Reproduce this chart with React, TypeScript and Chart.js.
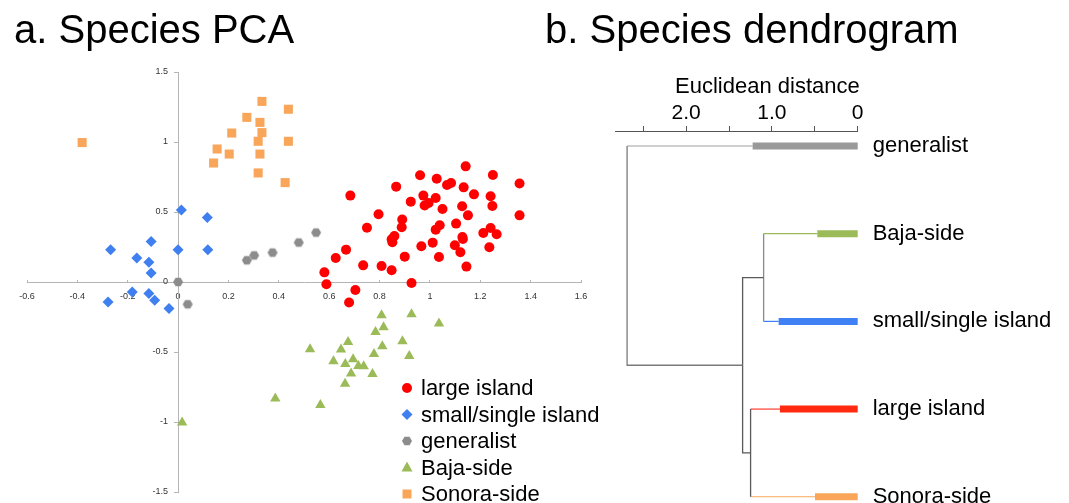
import React, { useEffect, useRef } from 'react';
import { Chart, registerables } from 'chart.js';

Chart.register(...registerables);

const FONT = '"Liberation Sans", Arial, Helvetica, sans-serif';

// ---------- PCA data ----------
const seriesNames = ['large island', 'small/single island', 'generalist', 'Baja-side', 'Sonora-side'];
const seriesColors = ['#FF0000', '#3F7FF0', '#8C8C8C', '#9BBB59', '#F9A65A'];

const largeIsland: [number, number][] = [
  [1.142, 0.826], [0.961, 0.762], [1.027, 0.738], [1.25, 0.764], [1.356, 0.703], [1.068, 0.693],
  [1.084, 0.707], [1.134, 0.676], [0.866, 0.681], [1.175, 0.626], [0.684, 0.617], [0.974, 0.617],
  [1.023, 0.6], [1.241, 0.612], [0.924, 0.574], [0.995, 0.564], [0.979, 0.546], [1.128, 0.541],
  [1.248, 0.543], [1.05, 0.521], [0.796, 0.484], [1.151, 0.476], [1.356, 0.476], [0.89, 0.446],
  [0.888, 0.391], [1.104, 0.417], [0.75, 0.388], [1.039, 0.405], [1.023, 0.374], [1.241, 0.386],
  [1.212, 0.35], [1.265, 0.341], [1.129, 0.321], [1.131, 0.307], [0.859, 0.329], [0.848, 0.305],
  [0.851, 0.284], [1.011, 0.281], [1.099, 0.262], [0.966, 0.255], [0.667, 0.231], [1.236, 0.248],
  [1.121, 0.212], [0.626, 0.171], [0.9, 0.181], [1.036, 0.179], [0.735, 0.119], [0.808, 0.114],
  [0.848, 0.084], [1.145, 0.11], [0.581, 0.069], [0.589, -0.016], [0.927, -0.007], [0.704, -0.057],
  [0.679, -0.147],
];
const smallIsland: [number, number][] = [
  [0.013, 0.514], [0.116, 0.46], [-0.107, 0.289], [-0.268, 0.231], [0, 0.231], [0.118, 0.231],
  [-0.164, 0.171], [-0.116, 0.141], [-0.107, 0.064], [-0.182, -0.071], [-0.278, -0.143],
  [-0.116, -0.083], [-0.093, -0.131], [-0.036, -0.19],
];
const generalist: [number, number][] = [
  [0, 0], [0.038, -0.159], [0.273, 0.155], [0.302, 0.19], [0.375, 0.21], [0.479, 0.282], [0.548, 0.353],
];
const bajaSide: [number, number][] = [
  [0.016, -1.004], [0.386, -0.833], [0.524, -0.481], [0.565, -0.879], [0.808, -0.238], [0.927, -0.231],
  [1.036, -0.297], [0.784, -0.357], [0.816, -0.324], [0.675, -0.429], [0.647, -0.483], [0.811, -0.459],
  [0.891, -0.424], [0.778, -0.514], [0.918, -0.529], [0.617, -0.566], [0.695, -0.552], [0.664, -0.586],
  [0.716, -0.6], [0.737, -0.602], [0.687, -0.654], [0.772, -0.657], [0.663, -0.726],
];
const sonoraSide: [number, number][] = [
  [-0.381, 0.996], [0.333, 1.29], [0.438, 1.234], [0.273, 1.176], [0.325, 1.14], [0.333, 1.067],
  [0.213, 1.064], [0.318, 1.005], [0.438, 1.005], [0.155, 0.95], [0.203, 0.914], [0.325, 0.914],
  [0.141, 0.85], [0.318, 0.779], [0.425, 0.71],
];
const pcaSeries = [largeIsland, smallIsland, generalist, bajaSide, sonoraSide];

const xTickRange = [-0.6, 1.6];
const xTickStep = 0.2;
const yTickRange = [-1.5, 1.5];
const yTickStep = 0.5;

// ---------- Dendrogram data ----------
const leafNames = ['generalist', 'Baja-side', 'small/single island', 'large island', 'Sonora-side'];
const leafBarLength = [1.225, 0.471, 0.922, 0.907, 0.498];
const leafJoinHeight = [2.689, 1.097, 1.097, 1.249, 1.249];
const leafBarColors = ['#999999', '#9BBB59', '#4080F5', '#FF2A10', '#F9A65A'];
const leafThinColors = ['#A0A0A0', '#9BBB59', '#4080F5', '#FF3B2F', '#F9A65A'];
const nodeBajaSmall = 1.097;
const nodeLargeSonora = 1.249;
const nodeInner = 1.342;
const nodeRoot = 2.689;
const distanceTicks = [0, 1, 2];
const distanceMax = 2.83;

const fmt = (v: any) => String(parseFloat(Number(v).toFixed(2)));

function makeHexagon(color: string, r: number) {
  const c = document.createElement('canvas');
  c.width = Math.ceil(2 * r + 2);
  c.height = Math.ceil(2 * r + 2);
  const ctx = c.getContext('2d')!;
  ctx.fillStyle = color;
  ctx.beginPath();
  for (let i = 0; i < 6; i++) {
    const a = (Math.PI / 3) * i;
    ctx.lineTo(c.width / 2 + r * Math.cos(a), c.height / 2 + r * Math.sin(a));
  }
  ctx.closePath();
  ctx.fill();
  return c;
}

function drawLegendMarker(ctx: CanvasRenderingContext2D, style: string, x: number, y: number, color: string) {
  ctx.save();
  ctx.fillStyle = color;
  ctx.beginPath();
  if (style === 'circle') {
    ctx.arc(x, y, 5, 0, Math.PI * 2);
  } else if (style === 'rectRot') {
    ctx.moveTo(x, y - 5.5); ctx.lineTo(x + 5.5, y); ctx.lineTo(x, y + 5.5); ctx.lineTo(x - 5.5, y);
  } else if (style === 'hex') {
    for (let i = 0; i < 6; i++) {
      const a = (Math.PI / 3) * i;
      ctx.lineTo(x + 5 * Math.cos(a), y + 5 * Math.sin(a));
    }
  } else if (style === 'triangle') {
    ctx.moveTo(x, y - 6); ctx.lineTo(x + 5.5, y + 4); ctx.lineTo(x - 5.5, y + 4);
  } else {
    ctx.rect(x - 4.5, y - 4.5, 9, 9);
  }
  ctx.closePath();
  ctx.fill();
  ctx.restore();
}

// shift y-axis tick labels (axis positioned at x = 0) to the left of the axis
function shiftYLabels(scale: any, dx: number) {
  if (scale.__shifted) return;
  scale.__shifted = true;
  const orig = scale._computeLabelItems.bind(scale);
  scale._computeLabelItems = (ca: any) =>
    orig(ca).map((item: any) => ({
      ...item,
      options: {
        ...item.options,
        translation: [item.options.translation[0] - dx, item.options.translation[1]],
      },
    }));
}

const PcaChart: React.FC = () => {
  const ref = useRef<HTMLCanvasElement>(null);
  useEffect(() => {
    const hex = makeHexagon(seriesColors[2], 5);
    const styles: any[] = ['circle', 'rectRot', hex, 'triangle', 'rect'];
    const radii = [5, 5.5, 5, 6, 6.4];
    const legendStyles = ['circle', 'rectRot', 'hex', 'triangle', 'rect'];
    const overlay = {
      id: 'pcaOverlay',
      afterDraw(chart: any) {
        const ctx = chart.ctx as CanvasRenderingContext2D;
        ctx.save();
        ctx.fillStyle = '#000';
        ctx.font = `40px ${FONT}`;
        ctx.textBaseline = 'alphabetic';
        ctx.textAlign = 'left';
        ctx.fillText('a. Species PCA', 14, 43);
        ctx.font = `22px ${FONT}`;
        ctx.textBaseline = 'middle';
        seriesNames.forEach((name, i) => {
          const y = 388 + i * 26.5;
          drawLegendMarker(ctx, legendStyles[i], 407, y, seriesColors[i]);
          ctx.fillStyle = '#000';
          ctx.fillText(name, 421, y + 1);
        });
        ctx.restore();
      },
    };
    const chart = new Chart(ref.current!, {
      type: 'scatter',
      data: {
        datasets: pcaSeries.map((pts, i) => ({
          label: seriesNames[i],
          data: pts.map(([x, y]) => ({ x, y })),
          pointStyle: styles[i],
          pointRadius: radii[i],
          pointBackgroundColor: seriesColors[i],
          pointBorderColor: seriesColors[i],
          pointBorderWidth: 0,
          order: 5 - i,
        })),
      },
      options: {
        responsive: false,
        animation: false,
        layout: { padding: { left: 27, top: 72, right: 19, bottom: 11 } },
        plugins: { legend: { display: false }, tooltip: { enabled: false } },
        scales: {
          x: {
            type: 'linear',
            min: xTickRange[0],
            max: xTickRange[1],
            position: { y: 0 } as any,
            ticks: {
              stepSize: xTickStep, font: { family: FONT, size: 9 }, color: '#333', padding: 12, maxRotation: 0,
              callback: fmt,
            },
            grid: { drawOnChartArea: false, tickLength: -3, color: '#B5B5B5' },
            border: { color: '#B5B5B5' },
          },
          y: {
            type: 'linear',
            min: yTickRange[0],
            max: yTickRange[1],
            position: { x: 0 } as any,
            afterUpdate: (s: any) => shiftYLabels(s, 10),
            ticks: { stepSize: yTickStep, font: { family: FONT, size: 9 }, color: '#333', padding: 5, callback: fmt },
            grid: { drawOnChartArea: false, tickLength: 4, color: '#B5B5B5' },
            border: { color: '#B5B5B5' },
          },
        },
      },
      plugins: [overlay],
    });
    return () => chart.destroy();
  }, []);
  return (
    <canvas
      ref={ref}
      width={600}
      height={503}
      style={{ position: 'absolute', left: 0, top: 0, width: 600, height: 503 }}
    />
  );
};

const DendroChart: React.FC = () => {
  const ref = useRef<HTMLCanvasElement>(null);
  useEffect(() => {
    const line = (pts: [number, number][], color: string, width: number) => ({
      data: pts.map(([x, y]) => ({ x, y })),
      showLine: true,
      borderColor: color,
      borderWidth: width,
      pointRadius: 0,
      fill: false,
      clip: false as any,
    });
    const connector = '#7A7A7A';
    const datasets: any[] = [];
    datasets.push(line([[nodeRoot, 0], [nodeRoot, 2.5], [nodeInner, 2.5]], connector, 1.3));
    datasets.push(line([[nodeBajaSmall, 1.5], [nodeInner, 1.5], [nodeInner, 3.5], [nodeLargeSonora, 3.5]], '#5A5A5A', 1.3));
    datasets.push(line([[nodeBajaSmall, 1], [nodeBajaSmall, 2]], '#8A8A8A', 1.3));
    datasets.push(line([[nodeLargeSonora, 3], [nodeLargeSonora, 4]], '#5A5A5A', 1.3));
    leafNames.forEach((_, i) => {
      datasets.push(line([[leafBarLength[i], i], [leafJoinHeight[i], i]], leafThinColors[i], 1.2));
    });
    leafNames.forEach((_, i) => {
      datasets.push(line([[0, i], [leafBarLength[i], i]], leafBarColors[i], 7));
    });
    const overlay = {
      id: 'dendroOverlay',
      afterDraw(chart: any) {
        const ctx = chart.ctx as CanvasRenderingContext2D;
        ctx.save();
        ctx.fillStyle = '#000';
        ctx.font = `40px ${FONT}`;
        ctx.textBaseline = 'alphabetic';
        ctx.textAlign = 'left';
        ctx.fillText('b. Species dendrogram', 5, 43);
        ctx.font = `22px ${FONT}`;
        ctx.textAlign = 'right';
        ctx.fillText('Euclidean distance', chart.chartArea.right + 2, 92.5);
        ctx.restore();
      },
    };
    const chart = new Chart(ref.current!, {
      type: 'scatter',
      data: { datasets },
      options: {
        responsive: false,
        animation: false,
        layout: { padding: { left: 75, top: 0, right: 0, bottom: 0 } },
        plugins: { legend: { display: false }, tooltip: { enabled: false } },
        scales: {
          x: {
            type: 'linear',
            position: 'top',
            reverse: true,
            min: 0,
            max: distanceMax,
            afterFit: (s: any) => { s.height = 131; s.paddingLeft = 0; s.paddingRight = 0; },
            ticks: {
              stepSize: 0.5,
              includeBounds: false,
              autoSkip: false,
              maxRotation: 0,
              padding: 0,
              color: '#000',
              font: { family: FONT, size: 21 },
              callback: (v: any) => {
                const n = Number(v);
                if (!distanceTicks.includes(n)) return '';
                return n === 0 ? '0' : n.toFixed(1);
              },
            },
            grid: { drawOnChartArea: false, tickLength: 5, color: '#555' },
            border: { color: '#555' },
          },
          y: {
            type: 'linear',
            position: 'right',
            reverse: true,
            min: -0.171,
            max: 4.071,
            afterFit: (s: any) => { s.width = 211.3; s.paddingTop = 0; s.paddingBottom = 0; },
            ticks: {
              stepSize: 1,
              includeBounds: false,
              autoSkip: false,
              padding: 15,
              color: '#000',
              font: { family: FONT, size: 22 },
              callback: (v: any) => leafNames[Number(v)] ?? '',
            },
            grid: { display: false, drawTicks: false },
            border: { display: false },
          },
        },
      },
      plugins: [overlay],
    });
    return () => chart.destroy();
  }, []);
  return (
    <canvas
      ref={ref}
      width={529}
      height={503}
      style={{ position: 'absolute', left: 540, top: 0, width: 529, height: 503 }}
    />
  );
};

export default function App() {
  return (
    <div style={{ position: 'fixed', left: 0, top: 0, width: 1069, height: 503, background: '#fff', overflow: 'hidden' }}>
      <PcaChart />
      <DendroChart />
    </div>
  );
}
